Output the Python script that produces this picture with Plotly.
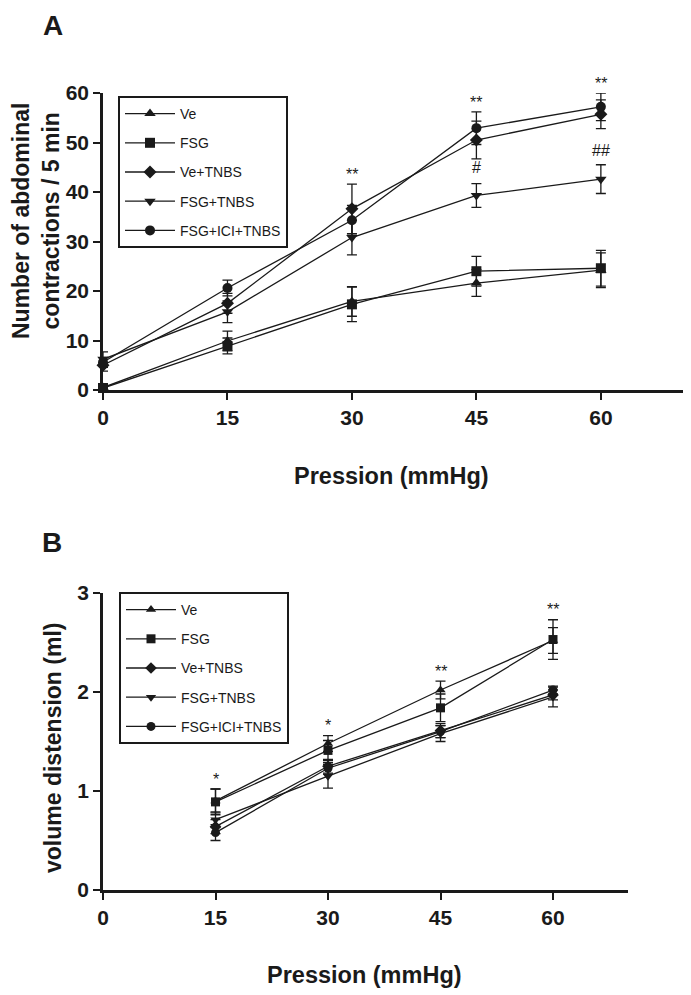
import plotly.graph_objects as go

# ---- data, panel A (abdominal contractions) ----
pressure_a = [0, 15, 30, 45, 60]
groups = ["Ve", "FSG", "Ve+TNBS", "FSG+TNBS", "FSG+ICI+TNBS"]

a_ve = [0.5, 9.9, 17.9, 21.6, 24.2]
a_ve_err = [0.6, 2.0, 3.0, 2.7, 3.5]
a_fsg = [0.4, 8.9, 17.3, 24.0, 24.6]
a_fsg_err = [0.4, 1.6, 3.5, 3.0, 3.6]
a_ve_tnbs = [5.0, 17.5, 36.6, 50.5, 55.7]
a_ve_tnbs_err = [1.2, 2.0, 5.0, 3.8, 2.9]
a_fsg_tnbs = [6.2, 15.8, 30.8, 39.3, 42.6]
a_fsg_tnbs_err = [1.5, 2.2, 3.5, 2.4, 2.9]
a_fsg_ici_tnbs = [5.6, 20.6, 34.3, 52.9, 57.2]
a_fsg_ici_tnbs_err = [1.0, 1.6, 3.0, 3.3, 2.8]

# significance marks panel A (y in data units, may sit above the axis top)
a_sig_x = [30, 45, 60, 45, 60]
a_sig_y = [43.5, 58.0, 62.0, 45.0, 48.3]
a_sig_txt = ["**", "**", "**", "#", "##"]

# ---- data, panel B (volume distension) ----
pressure_b = [15, 30, 45, 60]
b_ve = [0.90, 1.48, 2.02, 2.52]
b_ve_err = [0.12, 0.08, 0.09, 0.13]
b_fsg = [0.89, 1.41, 1.84, 2.53]
b_fsg_err = [0.13, 0.10, 0.14, 0.20]
b_ve_tnbs = [0.64, 1.25, 1.61, 1.97]
b_ve_tnbs_err = [0.07, 0.07, 0.07, 0.05]
b_fsg_tnbs = [0.71, 1.15, 1.58, 1.95]
b_fsg_tnbs_err = [0.08, 0.12, 0.08, 0.10]
b_fsg_ici_tnbs = [0.58, 1.23, 1.60, 2.02]
b_fsg_ici_tnbs_err = [0.08, 0.06, 0.06, 0.04]

b_sig_x = [15, 30, 45, 60]
b_sig_y = [1.12, 1.66, 2.21, 2.83]
b_sig_txt = ["*", "*", "**", "**"]

symbols = ["triangle-up", "square", "diamond", "triangle-down", "circle"]
FONT = "Liberation Sans, Arial, sans-serif"
INK = "#1a1a1a"

W, H = 691, 995
OFF = 8  # page body margin
A_MAX, B_MAX = 60, 3


# pixel position on the page -> paper fraction
def px(x):
    return (x - OFF) / W


def py(y):
    return 1 - (y - OFF) / H


fig = go.Figure()

a_vals = [a_ve, a_fsg, a_ve_tnbs, a_fsg_tnbs, a_fsg_ici_tnbs]
a_errs = [a_ve_err, a_fsg_err, a_ve_tnbs_err, a_fsg_tnbs_err, a_fsg_ici_tnbs_err]
b_vals = [b_ve, b_fsg, b_ve_tnbs, b_fsg_tnbs, b_fsg_ici_tnbs]
b_errs = [b_ve_err, b_fsg_err, b_ve_tnbs_err, b_fsg_tnbs_err, b_fsg_ici_tnbs_err]

for i, name in enumerate(groups):
    fig.add_trace(go.Scatter(
        x=pressure_a, y=a_vals[i], name=name, mode="lines+markers",
        xaxis="x", yaxis="y", legend="legend", legendgroup="a" + str(i),
        line=dict(color=INK, width=1.3),
        marker=dict(symbol=symbols[i], size=10, color=INK),
        error_y=dict(type="data", array=a_errs[i], color=INK, thickness=1.3, width=5),
        cliponaxis=False,
    ))

for i, name in enumerate(groups):
    fig.add_trace(go.Scatter(
        x=pressure_b, y=b_vals[i], name=name, mode="lines+markers",
        xaxis="x2", yaxis="y2", legend="legend2", legendgroup="b" + str(i),
        line=dict(color=INK, width=1.3),
        marker=dict(symbol=symbols[i], size=9, color=INK),
        error_y=dict(type="data", array=b_errs[i], color=INK, thickness=1.3, width=5),
        cliponaxis=False,
    ))

axis_style = dict(
    showline=True, linecolor=INK, linewidth=2.5, mirror=False,
    ticks="outside", ticklen=7, tickwidth=2, tickcolor=INK,
    showgrid=False, zeroline=False, automargin=False,
    tickfont=dict(family=FONT, size=21, color=INK, weight="bold"),
)

legend_style = dict(
    xanchor="left", yanchor="top",
    bordercolor=INK, borderwidth=2, bgcolor="white",
    font=dict(family=FONT, size=14, color=INK),
    traceorder="grouped", tracegroupgap=8, itemwidth=50,
    entrywidth=110,
)

fig.update_layout(
    width=W, height=H,
    margin=dict(l=0, r=0, t=0, b=0, autoexpand=False),
    paper_bgcolor="white", plot_bgcolor="white",
    font=dict(family=FONT, color=INK),
    xaxis=dict(domain=[px(103), px(688)], range=[0, 70.5], anchor="y",
               tickvals=[0, 15, 30, 45, 60], **axis_style),
    yaxis=dict(domain=[py(390), py(93)], range=[0, A_MAX], anchor="x",
               tickvals=[0, 10, 20, 30, 40, 50, 60], **axis_style),
    xaxis2=dict(domain=[px(103), px(628)], range=[0, 70], anchor="y2",
                tickvals=[0, 15, 30, 45, 60], **axis_style),
    yaxis2=dict(domain=[py(890), py(593)], range=[0, B_MAX], anchor="x2",
                tickvals=[0, 1, 2, 3], **axis_style),
    legend=dict(x=px(118), y=py(96), **legend_style),
    legend2=dict(x=px(119), y=py(592), **legend_style),
    showlegend=True,
)

star = dict(showarrow=False, xanchor="center", yanchor="middle",
            font=dict(family=FONT, size=16, color=INK))
ann = []
for x, y, t in zip(a_sig_x, a_sig_y, a_sig_txt):
    ann.append(dict(x=x, y=y / A_MAX, xref="x", yref="y domain", text=t, **star))
for x, y, t in zip(b_sig_x, b_sig_y, b_sig_txt):
    ann.append(dict(x=x, y=y / B_MAX, xref="x2", yref="y2 domain", text=t, **star))

bold = dict(family=FONT, color=INK, weight="bold")
centered = dict(xref="paper", yref="paper", xanchor="center", yanchor="middle",
                showarrow=False)
ann += [
    dict(x=px(53), y=1, xref="paper", yref="paper", xanchor="center", yanchor="top",
         showarrow=False, text="A", font=dict(size=28, **bold)),
    dict(x=px(52), y=py(542), text="B", font=dict(size=28, **bold), **centered),
    dict(x=px(391), y=py(476), text="Pression (mmHg)",
         font=dict(size=23.5, **bold), **centered),
    dict(x=px(365), y=py(975), text="Pression (mmHg)",
         font=dict(size=23.5, **bold), **centered),
    dict(x=px(36), y=py(221), text="Number of abdominal<br>contractions / 5 min",
         textangle=-90, font=dict(size=23, **bold), **centered),
    dict(x=px(53), y=py(748), text="volume distension (ml)",
         textangle=-90, font=dict(size=23, **bold), **centered),
]
fig.update_layout(annotations=ann)

fig.write_html("out.html")
